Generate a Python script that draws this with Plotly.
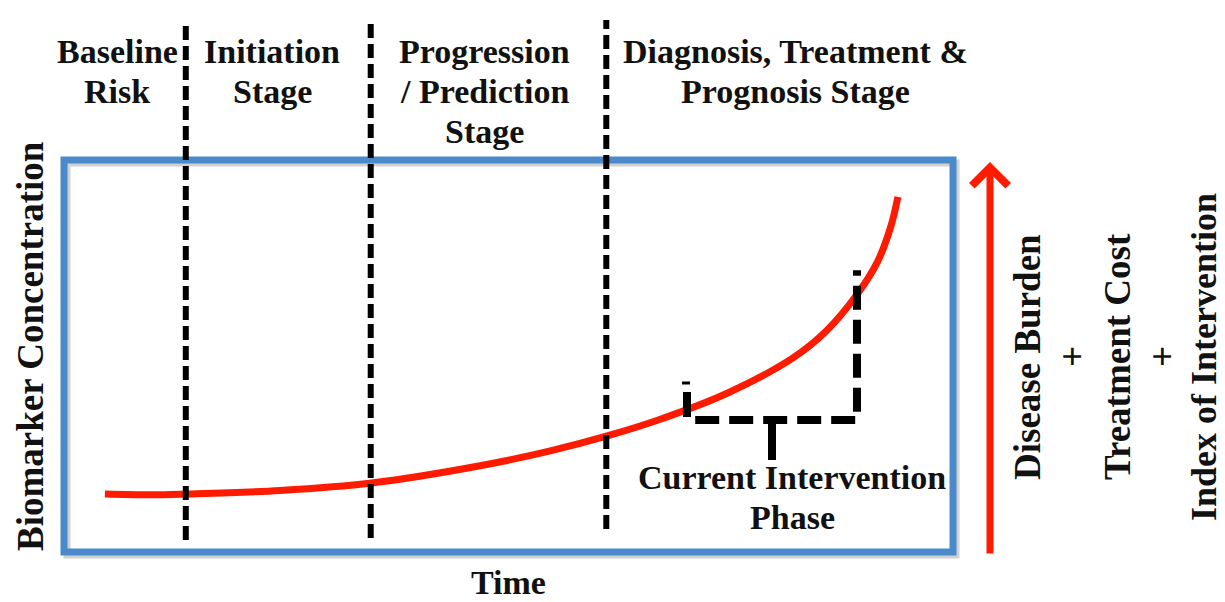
import plotly.graph_objects as go

# ---- data (time, biomarker concentration) in box units 0..100 ----
time = [4.6, 9.7, 13.8, 24.3, 34.6, 46.8, 54.7, 61.4, 67.0, 74.6, 82.0, 85.8, 89.3, 91.5, 93.0, 93.8]
concentration = [14.8, 14.6, 14.8, 15.7, 17.6, 22.0, 25.8, 29.8, 33.8, 40.5, 49.5, 56.5, 66.0, 74.0, 83.0, 90.6]

stage_boundaries = [13.7, 34.5, 61.0]
stage_labels = [
    ["Baseline", "Risk"],
    ["Initiation", "Stage"],
    ["Progression", "/ Prediction", "Stage"],
    ["Diagnosis, Treatment &", "Prognosis Stage"],
]
phase_label = ["Current Intervention", "Phase"]
side_labels = ["Disease Burden", "+", "Treatment Cost", "+", "Index of Intervention"]

# bracket for current intervention phase (time / concentration units)
bracket_t = [71.0, 89.2, 89.2]
bracket_c = [33.7, 33.7, 71.9]

W, H = 1225, 602
# pixel -> data helpers for layout placement only
BX0, BX1, BY0, BY1 = 64, 953, 552, 160
sx = (BX1 - BX0) / 100.0
sy = (BY0 - BY1) / 100.0
def px(x):
    return (x - BX0) / sx
def py(y):
    return (BY0 - y) / sy

FONT = "Liberation Serif"
RED = "#FF1A00"
BLUE = "#4A8ACB"

fig = go.Figure()

# biomarker curve
fig.add_trace(go.Scatter(x=time, y=concentration, mode="lines",
                         line=dict(color=RED, width=7, shape="spline", smoothing=1.0),
                         hoverinfo="skip", showlegend=False))

# bracket
fig.add_trace(go.Scatter(x=bracket_t, y=bracket_c, mode="lines",
                         line=dict(color="black", width=8, dash="24px,10px"),
                         hoverinfo="skip", showlegend=False))

shapes = []
# box shadow + box
shapes.append(dict(type="rect", xref="x", yref="y", x0=0 + 3 / sx, x1=100 + 3 / sx,
                   y0=0 - 3 / sy, y1=100 - 3 / sy,
                   line=dict(color="rgba(0,0,0,0.18)", width=7), layer="below"))
shapes.append(dict(type="rect", xref="x", yref="y", x0=0, x1=100, y0=0, y1=100,
                   line=dict(color=BLUE, width=7), layer="below"))

# stage boundary dashed lines
bottoms = [py(540), py(538), py(529)]
for xb, yb in zip(stage_boundaries, bottoms):
    shapes.append(dict(type="line", xref="x", yref="y", x0=xb, x1=xb, y0=yb, y1=py(20),
                       line=dict(color="black", width=6, dash="14px,6px")))

# left tick of bracket
shapes.append(dict(type="line", xref="x", yref="y", x0=px(687), x1=px(687), y0=py(417), y1=py(392),
                   line=dict(color="black", width=8)))
shapes.append(dict(type="line", xref="x", yref="y", x0=px(682), x1=px(690), y0=py(383), y1=py(383),
                   line=dict(color="black", width=3)))
# stem
shapes.append(dict(type="line", xref="x", yref="y", x0=px(772), x1=px(772), y0=py(420), y1=py(460),
                   line=dict(color="black", width=8)))

annotations = []
def txt(t, x, y, size=34, angle=0):
    annotations.append(dict(text="<b>" + t + "</b>", x=px(x), y=py(y), xref="x", yref="y",
                            showarrow=False, xanchor="center", yanchor="middle", borderpad=0,
                            textangle=angle, font=dict(family=FONT, size=size, color="#111111")))

stage_x = [117, 272, 484, 795]
for lbls, cx in zip(stage_labels, stage_x):
    for i, l in enumerate(lbls):
        txt(l, cx, 51 + 40 * i)

for i, l in enumerate(phase_label):
    txt(l, 792, 477 + 40 * i)

txt("Time", 508, 582)
txt("Biomarker Concentration", 30, 346, size=37, angle=-90)

side_x = [1027, 1072, 1117, 1162, 1204]
side_sizes = [37, 37, 37, 37, 36]
for l, cx, sz in zip(side_labels, side_x, side_sizes):
    txt(l, cx, 357, size=sz, angle=-90)

# red upward arrow
annotations.append(dict(x=px(990), y=py(162), ax=px(990), ay=py(555), xref="x", yref="y",
                        axref="x", ayref="y", text="", showarrow=True, arrowhead=4,
                        arrowsize=1, arrowwidth=7, arrowcolor=RED, standoff=0))

fig.update_layout(
    width=W, height=H,
    margin=dict(l=0, r=0, t=0, b=0),
    paper_bgcolor="white", plot_bgcolor="white",
    xaxis=dict(range=[px(0), px(W)], visible=False, fixedrange=True),
    yaxis=dict(range=[py(H), py(0)], visible=False, fixedrange=True),
    shapes=shapes, annotations=annotations,
    showlegend=False,
)

fig.write_html("out.html", config={"displayModeBar": False},
               post_script="document.body.style.margin='0';document.body.style.padding='0';document.body.style.overflow='hidden';")
